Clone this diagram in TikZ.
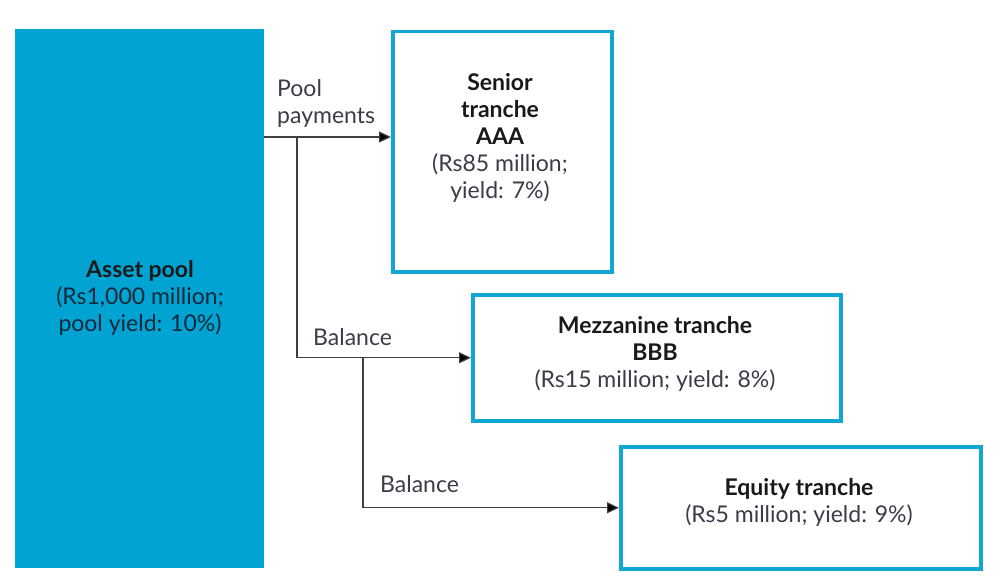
\documentclass[tikz,border=0pt]{standalone}
\usepackage{fontspec}
\setmainfont{Lato}
\usetikzlibrary{arrows.meta}

\definecolor{poolblue}{RGB}{0,163,210}
\definecolor{edgeblue}{RGB}{18,166,210}
\definecolor{textgrey}{RGB}{58,60,72}
\definecolor{textnavy}{RGB}{22,40,58}

\tikzset{
  tranche/.style={draw=edgeblue, line width=3.5pt, fill=white, inner sep=0pt, anchor=north west},
  flow/.style={line width=1.2pt, draw=black!75, -{Triangle[length=12pt,width=11pt,fill=black]}},
  branch/.style={line width=1.2pt, draw=black!75},
  body/.style={font=\fontsize{23}{27}\selectfont, text=textgrey, align=center, inner sep=0pt},
}

\begin{document}
\begin{tikzpicture}[x=1pt, y=-1pt]
  \useasboundingbox (0,0) rectangle (1002,586);

  % Asset pool block
  \node[fill=poolblue, inner sep=0pt, anchor=north west,
        minimum width=249pt, minimum height=539pt] (pool) at (15,29) {};
  \node[body, text=textnavy] (pooltext) at (140,298)
    {\textbf{\color{black!90}Asset pool}\\(Rs1,000 million;\\pool yield: 10\%)};

  % Senior tranche
  \node[tranche, minimum width=219pt, minimum height=240pt] (senior) at (391,30) {};
  \node[body] (seniortext) at (500,138)
    {\textbf{\color{black!90}Senior}\\\textbf{\color{black!90}tranche}\\\textbf{\color{black!90}AAA}\\(Rs85 million;\\yield: 7\%)};

  % Mezzanine tranche
  \node[tranche, minimum width=368pt, minimum height=126pt] (mezz) at (471,293) {};
  \node[body] (mezztext) at (655,354)
    {\textbf{\color{black!90}Mezzanine tranche}\\\textbf{\color{black!90}BBB}\\(Rs15 million; yield: 8\%)};

  % Equity tranche
  \node[tranche, minimum width=360pt, minimum height=122pt] (equity) at (619,445) {};
  \node[body] (equitytext) at (799,502)
    {\textbf{\color{black!90}Equity tranche}\\(Rs5 million; yield: 9\%)};

  % Branch points
  \coordinate (split1) at (297,137);
  \coordinate (split2) at (363,357);

  % Pool payments to senior
  \draw[flow] (pool.east |- split1) -- (senior.west |- split1);
  \node[body, align=left, anchor=south west] (paylabel) at (277,128) {Pool\\payments};

  % Balance to mezzanine
  \draw[flow] (split1) |- (mezz.west);
  \node[body, anchor=base west] (bal1) at (313,345) {Balance};

  % Balance to equity
  \draw[flow] (split2) |- (equity.west);
  \node[body, anchor=base west] (bal2) at (380,492) {Balance};
\end{tikzpicture}
\end{document}
